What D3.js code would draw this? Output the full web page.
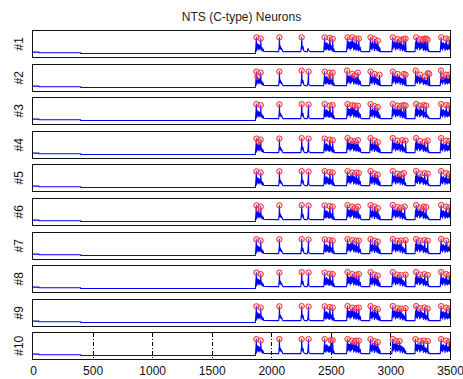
<!DOCTYPE html>
<html>
<head>
<meta charset="utf-8">
<script src="https://cdn.jsdelivr.net/npm/d3@7"></script>
<style>
  body { margin: 0; background: #fff; }
  svg { display: block; font-family: "Liberation Sans", Arial, sans-serif; }
</style>
</head>
<body>
<svg id="chart" width="463" height="379"></svg>
<script>
// ---- data ----
const title = "NTS (C-type) Neurons";
const panelLabels = ["#1", "#2", "#3", "#4", "#5", "#6", "#7", "#8", "#9", "#10"];
const xTicks = [0, 500, 1000, 1500, 2000, 2500, 3000, 3500];
const gridTicks = [500, 1000, 1500, 2000, 2500, 3000];

// quiet stretch before the first burst [time, level]
const baseline = [[0, 0.17], [50, 0.17], [50, 0.15], [400, 0.15], [400, 0.12], [1860, 0.12]];

// burst bodies: start time, sample step, levels
const bursts = [
    { t0: 1866, dt: 5, v: [0.12, 0.42, 0.22, 0.52, 0.3, 0.48, 0.26, 0.45, 0.3, 0.4, 0.25, 0.36, 0.22, 0.3, 0.2] },
    { t0: 2062, dt: 5, v: [0.19, 0.45, 0.3, 0.4, 0.28, 0.32, 0.24, 0.2, 0.19] },
    { t0: 2248, dt: 6, v: [0.19, 0.48, 0.3, 0.4, 0.24, 0.2, 0.19, 0.19, 0.19, 0.19, 0.32, 0.25, 0.21, 0.19] },
    { t0: 2440, dt: 5, v: [0.19, 0.5, 0.28, 0.52, 0.25, 0.55, 0.3, 0.5, 0.26, 0.46, 0.24, 0.5, 0.28, 0.42, 0.22, 0.38, 0.2, 0.3, 0.19] },
    { t0: 2632, dt: 5, v: [0.19, 0.55, 0.3, 0.58, 0.34, 0.56, 0.26, 0.6, 0.32, 0.52, 0.36, 0.58, 0.26, 0.55, 0.3, 0.5, 0.24, 0.52, 0.28, 0.46, 0.22, 0.42, 0.25, 0.36, 0.2, 0.19, 0.19] },
    { t0: 2826, dt: 5, v: [0.19, 0.55, 0.3, 0.52, 0.26, 0.58, 0.34, 0.5, 0.24, 0.55, 0.3, 0.5, 0.25, 0.46, 0.22, 0.42, 0.2, 0.34, 0.19, 0.19] },
    { t0: 3012, dt: 5, v: [0.19, 0.56, 0.3, 0.55, 0.36, 0.6, 0.26, 0.54, 0.32, 0.58, 0.28, 0.52, 0.34, 0.56, 0.24, 0.5, 0.3, 0.48, 0.22, 0.44, 0.26, 0.38, 0.2, 0.3, 0.19, 0.19] },
    { t0: 3206, dt: 5, v: [0.19, 0.56, 0.32, 0.55, 0.28, 0.58, 0.36, 0.52, 0.26, 0.56, 0.3, 0.54, 0.34, 0.5, 0.24, 0.48, 0.28, 0.44, 0.22, 0.4, 0.26, 0.34, 0.2, 0.26, 0.19, 0.19] },
    { t0: 3418, dt: 5, v: [0.19, 0.55, 0.3, 0.52, 0.26, 0.56, 0.34, 0.5, 0.24, 0.52, 0.3, 0.48, 0.26, 0.46, 0.3, 0.44, 0.28, 0.42] }
];

// detected peaks per neuron [time, level]
const peaks1 = [[1875, .75], [1911, .7], [2068, .75], [2255, .75], [2448, .75], [2490, .73], [2515, .69], [2640, .75], [2680, .75], [2713, .7], [2735, .7], [2833, .75], [2867, .68], [2894, .62], [3020, .75], [3060, .68], [3091, .66], [3112, .68], [3127, .7], [3216, .75], [3250, .68], [3274, .66], [3286, .7], [3300, .7], [3313, .66], [3426, .75], [3468, .7], [3495, .66]];
const peaks2 = [[1875, .74], [1884, .54], [1911, .7], [2068, .74], [2255, .78], [2313, .74], [2448, .74], [2490, .7], [2498, .54], [2515, .7], [2636, .78], [2680, .65], [2700, .58], [2727, .7], [2833, .74], [2867, .65], [2908, .62], [3020, .74], [3060, .65], [3113, .65], [3127, .62], [3212, .78], [3250, .62], [3286, .54], [3313, .68], [3326, .65], [3424, .78], [3440, .54], [3468, .62], [3495, .62]];
const peaks3 = [[1875, .76], [1911, .72], [2068, .75], [2255, .76], [2313, .74], [2448, .76], [2490, .7], [2515, .72], [2640, .76], [2680, .72], [2700, .7], [2727, .7], [2833, .76], [2867, .68], [2894, .64], [3020, .76], [3060, .7], [3091, .7], [3112, .72], [3127, .7], [3216, .76], [3250, .7], [3280, .72], [3300, .7], [3426, .76], [3468, .72], [3495, .7]];
const peaks4 = [[1875, .74], [1896, .62], [1911, .7], [2068, .74], [2255, .76], [2313, .74], [2448, .74], [2490, .7], [2515, .68], [2640, .76], [2670, .66], [2700, .64], [2727, .68], [2833, .76], [2867, .66], [2894, .6], [3020, .76], [3060, .66], [3100, .68], [3127, .66], [3216, .76], [3250, .64], [3286, .62], [3313, .66], [3426, .76], [3468, .66], [3495, .64]];
const peaks5 = [[1875, .75], [1911, .7], [2068, .75], [2255, .76], [2313, .74], [2448, .76], [2490, .72], [2515, .7], [2640, .76], [2680, .7], [2713, .7], [2735, .68], [2833, .76], [2867, .66], [2894, .62], [3020, .76], [3060, .66], [3091, .64], [3112, .68], [3216, .76], [3250, .66], [3286, .68], [3313, .66], [3426, .76], [3468, .68], [3495, .64]];
const peaks6 = [[1875, .75], [1893, .6], [1911, .7], [2068, .75], [2255, .76], [2313, .74], [2448, .75], [2490, .72], [2515, .7], [2640, .76], [2680, .7], [2700, .64], [2727, .7], [2833, .76], [2867, .7], [2894, .64], [3020, .76], [3060, .68], [3091, .66], [3120, .7], [3216, .76], [3250, .66], [3280, .7], [3300, .68], [3426, .76], [3468, .7], [3495, .66]];
const peaks7 = [[1875, .75], [1911, .7], [2068, .75], [2255, .76], [2313, .74], [2448, .75], [2490, .72], [2515, .7], [2640, .76], [2680, .72], [2713, .7], [2735, .7], [2833, .76], [2867, .7], [2894, .66], [3020, .76], [3060, .7], [3091, .7], [3127, .72], [3216, .76], [3250, .7], [3286, .72], [3313, .7], [3426, .76], [3468, .7], [3498, .56]];
const peaks8 = [[1875, .74], [1911, .68], [2068, .74], [2255, .76], [2313, .74], [2448, .74], [2490, .7], [2515, .68], [2640, .76], [2680, .68], [2713, .66], [2735, .68], [2833, .76], [2867, .66], [2894, .62], [3020, .76], [3060, .66], [3091, .64], [3127, .66], [3216, .76], [3250, .66], [3286, .68], [3313, .64], [3426, .76], [3468, .68], [3495, .64]];
const peaks9 = [[1875, .75], [1911, .7], [2068, .75], [2255, .76], [2313, .74], [2448, .75], [2490, .72], [2515, .7], [2640, .76], [2680, .7], [2713, .68], [2735, .7], [2833, .76], [2867, .68], [2894, .64], [3020, .76], [3060, .68], [3091, .66], [3127, .68], [3216, .76], [3250, .68], [3286, .7], [3313, .66], [3426, .76], [3468, .7], [3495, .66]];
const peaks10 = [[1875, .76], [1911, .7], [2068, .76], [2255, .76], [2313, .76], [2448, .76], [2500, .72], [2515, .72], [2640, .76], [2680, .7], [2700, .64], [2713, .7], [2735, .7], [2833, .76], [2867, .68], [2894, .64], [3020, .76], [3048, .68], [3077, .68], [3210, .76], [3250, .68], [3280, .7], [3313, .68], [3426, .76], [3468, .7], [3495, .66]];
const allPeaks = [peaks1, peaks2, peaks3, peaks4, peaks5, peaks6, peaks7, peaks8, peaks9, peaks10];

// ---- layout ----
const svg = d3.select("#chart");
const panelTop = 31, panelStep = 33.6, panelH = 25.5;
const x = d3.scaleLinear().domain([0, 3500]).range([33, 450]);
const y = d3.scaleLinear().domain([0, 1]).range([panelH, 0]);

const line = d3.line()
    .x(d => x(d[0]))
    .y(d => y(d[1]));

const burstPoints = bursts.flatMap(b => b.v.map((v, k) => [b.t0 + k * b.dt, v]));

svg.append("text")
    .attr("x", (x(0) + x(3500)) / 2)
    .attr("y", 20.5)
    .attr("text-anchor", "middle")
    .style("font-size", "12px")
    .style("fill", "#222")
    .text(title);

panelLabels.forEach((label, i) => {
    const top = Math.round(panelTop + i * panelStep);
    const g = svg.append("g").attr("transform", `translate(0,${top})`);

    g.append("clipPath").attr("id", `clip${i}`)
        .append("rect")
        .attr("x", x(0)).attr("y", 0)
        .attr("width", x(3500) - x(0)).attr("height", panelH);

    const plot = g.append("g").attr("clip-path", `url(#clip${i})`);

    // grid only on the last panel
    if (i === panelLabels.length - 1) {
        plot.selectAll(".grid")
            .data(gridTicks)
            .enter().append("line")
            .attr("class", "grid")
            .attr("x1", d => Math.round(x(d)) + 0.5)
            .attr("x2", d => Math.round(x(d)) + 0.5)
            .attr("y1", 0)
            .attr("y2", panelH)
            .attr("stroke", "#000")
            .attr("stroke-width", 1)
            .attr("stroke-dasharray", "4,2,1,2");
    }

    const peaks = allPeaks[i];
    const trace = baseline.concat(burstPoints, peaks).sort((a, b) => a[0] - b[0]);

    plot.append("path")
        .datum(trace)
        .attr("fill", "none")
        .attr("stroke", "#0000ff")
        .attr("stroke-width", 1.1)
        .attr("stroke-linejoin", "round")
        .attr("d", line);

    plot.selectAll("circle")
        .data(peaks)
        .enter().append("circle")
        .attr("cx", d => x(d[0]))
        .attr("cy", d => y(d[1]))
        .attr("r", 2.7)
        .attr("fill", "rgba(255,150,150,0.35)")
        .attr("stroke", "#ff2a2a")
        .attr("stroke-width", 1);

    g.append("rect")
        .attr("x", Math.round(x(0)) - 0.5)
        .attr("y", -0.5)
        .attr("width", Math.round(x(3500)) - Math.round(x(0)) + 1)
        .attr("height", Math.round(panelH) + 1)
        .attr("fill", "none")
        .attr("stroke", "#111")
        .attr("stroke-width", 1);

    g.append("text")
        .attr("transform", `translate(23,${panelH / 2}) rotate(-90)`)
        .attr("text-anchor", "middle")
        .style("font-size", "12px")
        .style("fill", "#111")
        .text(label);

    if (i === panelLabels.length - 1) {
        const axis = g.append("g")
            .attr("transform", `translate(0,${Math.round(panelH) + 0.5})`)
            .call(d3.axisBottom(x).tickValues(xTicks).tickSize(0).tickPadding(7).tickFormat(d3.format("d")));
        axis.select(".domain").remove();
        axis.selectAll("text")
            .style("font-size", "12px")
            .style("font-family", "\"Liberation Sans\", Arial, sans-serif")
            .style("fill", "#111");
    }
});
</script>
</body>
</html>
